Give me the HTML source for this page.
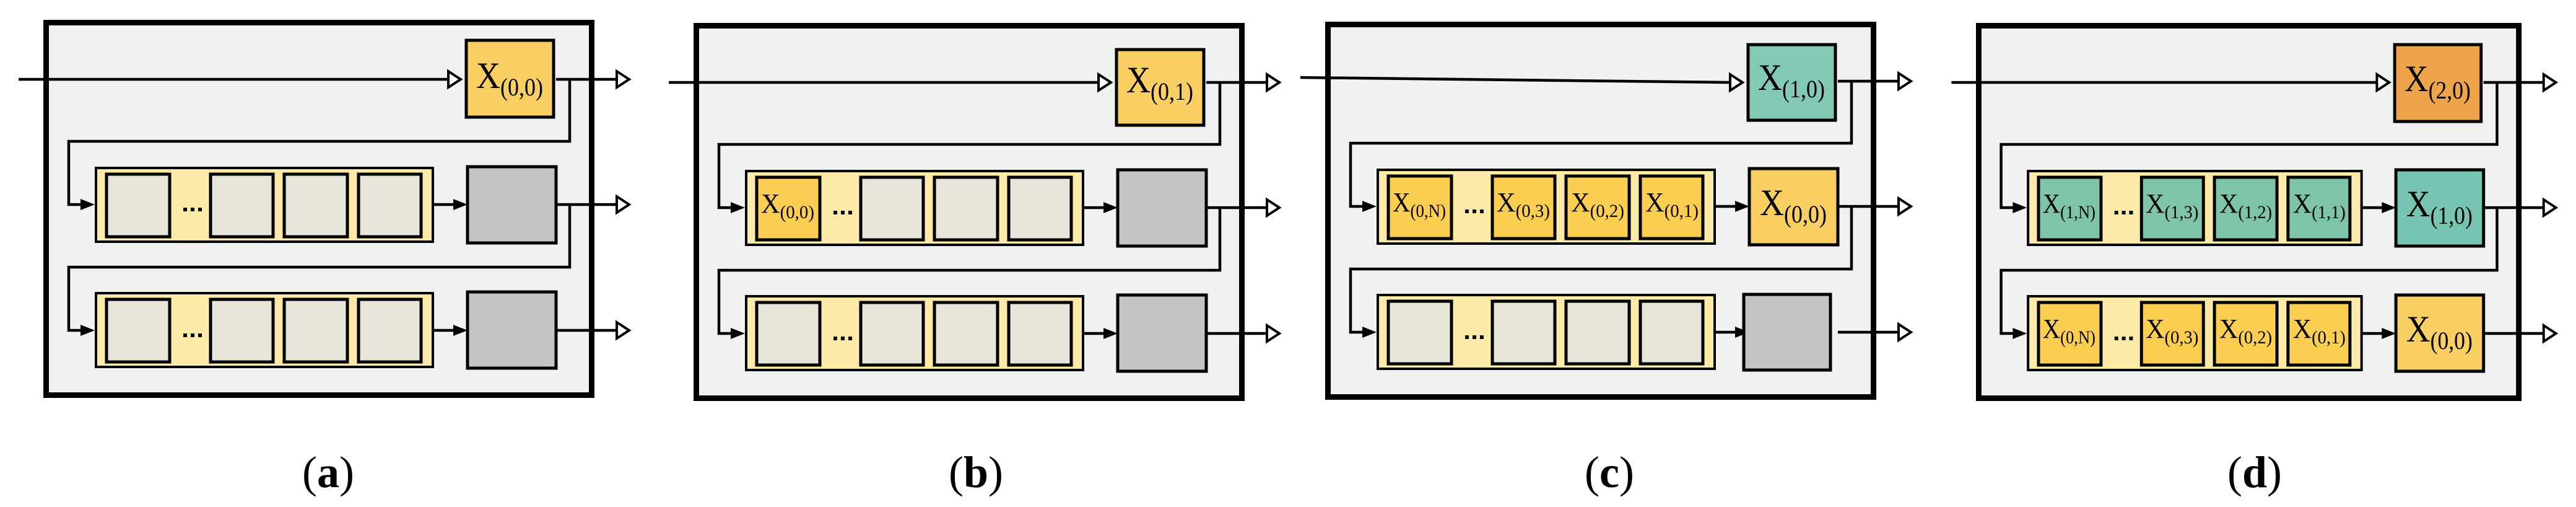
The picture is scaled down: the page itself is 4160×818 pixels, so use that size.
<!DOCTYPE html>
<html><head><meta charset="utf-8"><style>
html,body{margin:0;padding:0;background:#fff;}
svg{display:block;}
text{font-family:"Liberation Serif",serif;fill:#000;}
</style></head><body>
<svg width="4160" height="818" viewBox="0 0 4160 818" xmlns="http://www.w3.org/2000/svg">
<defs>
<g id="frame">
 <rect x="4.5" y="4.5" width="881" height="601" fill="#f1f1f1" stroke="#000" stroke-width="9"/>
 <g stroke="#000" stroke-width="4.5" fill="none">
  <line x1="828" y1="96" x2="926" y2="96"/>
  <line x1="828" y1="298" x2="926" y2="298"/>
  <line x1="828" y1="501" x2="926" y2="501"/>
  <polyline points="850,96 850,196 41,196 41,298 62,298"/>
  <polyline points="850,298 850,399 41,399 41,501 62,501"/>
  <line x1="631" y1="298" x2="666" y2="298"/>
  <line x1="631" y1="501" x2="666" y2="501"/>
 </g>
 <g fill="#fff" stroke="#000" stroke-width="4">
  <polygon points="926,83 946,96 926,109"/>
  <polygon points="926,285 946,298 926,311"/>
  <polygon points="926,488 946,501 926,514"/>
 </g>
 <g fill="#000">
  <polygon points="60,289 83,298 60,307"/>
  <polygon points="60,492 83,501 60,510"/>
  <polygon points="662,289 685,298 662,307"/>
  <polygon points="662,492 685,501 662,510"/>
 </g>
 <rect x="85" y="239" width="544" height="119" fill="#feeaa8" stroke="#000" stroke-width="4"/>
 <rect x="85" y="441" width="544" height="119" fill="#feeaa8" stroke="#000" stroke-width="4"/>
 <g fill="#000">
  <rect x="226" y="303" width="6" height="6"/><rect x="238" y="303" width="6" height="6"/><rect x="250" y="303" width="6" height="6"/>
  <rect x="226" y="506" width="6" height="6"/><rect x="238" y="506" width="6" height="6"/><rect x="250" y="506" width="6" height="6"/>
 </g>
</g>
<g id="inputline">
 <line x1="-40" y1="96" x2="654" y2="96" stroke="#000" stroke-width="4.5"/>
 <polygon points="654,83 674,96 654,109" fill="#fff" stroke="#000" stroke-width="4"/>
</g>
</defs>

<!-- Panel a -->
<g transform="translate(70,32)">
 <use href="#frame"/><use href="#inputline"/>
 <rect x="683" y="33" width="141" height="124" fill="#f9cf63" stroke="#000" stroke-width="5"/>
 <text x="699" y="110" font-size="60" textLength="108" lengthAdjust="spacingAndGlyphs">X<tspan font-size="40" dy="12">(0,0)</tspan></text>
 <g fill="#e7e4da" stroke="#000" stroke-width="5">
  <rect x="102" y="249" width="102" height="101"/><rect x="270" y="249" width="101" height="101"/><rect x="389" y="249" width="102" height="101"/><rect x="509" y="249" width="101" height="101"/>
  <rect x="102" y="451" width="102" height="101"/><rect x="270" y="451" width="101" height="101"/><rect x="389" y="451" width="102" height="101"/><rect x="509" y="451" width="101" height="101"/>
 </g>
 <rect x="685" y="237" width="143" height="123" fill="#c4c4c4" stroke="#000" stroke-width="5"/>
 <rect x="685" y="439" width="143" height="123" fill="#c4c4c4" stroke="#000" stroke-width="5"/>
</g>

<!-- Panel b -->
<g transform="translate(1120,37)">
 <use href="#frame"/><use href="#inputline"/>
 <rect x="683" y="43" width="141" height="122" fill="#f9cf63" stroke="#000" stroke-width="5"/>
 <text x="699" y="112" font-size="60" textLength="108" lengthAdjust="spacingAndGlyphs">X<tspan font-size="40" dy="12">(0,1)</tspan></text>
 <rect x="102" y="249" width="102" height="101" fill="#fbcd55" stroke="#000" stroke-width="5"/>
 <text x="109" y="306" font-size="44" textLength="86" lengthAdjust="spacingAndGlyphs">X<tspan font-size="30" dy="9">(0,0)</tspan></text>
 <g fill="#e7e4da" stroke="#000" stroke-width="5">
  <rect x="270" y="249" width="101" height="101"/><rect x="389" y="249" width="102" height="101"/><rect x="509" y="249" width="101" height="101"/>
  <rect x="102" y="451" width="102" height="101"/><rect x="270" y="451" width="101" height="101"/><rect x="389" y="451" width="102" height="101"/><rect x="509" y="451" width="101" height="101"/>
 </g>
 <rect x="685" y="237" width="143" height="123" fill="#c4c4c4" stroke="#000" stroke-width="5"/>
 <rect x="685" y="439" width="143" height="123" fill="#c4c4c4" stroke="#000" stroke-width="5"/>
</g>

<!-- Panel c -->
<g transform="translate(2140,35)">
 <use href="#frame"/>
 <line x1="-40" y1="90" x2="654" y2="98" stroke="#000" stroke-width="4.5"/>
 <polygon points="654,85 674,98 654,111" fill="#fff" stroke="#000" stroke-width="4"/>
 <rect x="683" y="37" width="141" height="122" fill="#82c9b8" stroke="#000" stroke-width="5"/>
 <text x="699" y="110" font-size="60" textLength="108" lengthAdjust="spacingAndGlyphs">X<tspan font-size="40" dy="12">(1,0)</tspan></text>
 <g fill="#fbcd50" stroke="#000" stroke-width="5">
  <rect x="102" y="249" width="102" height="101"/><rect x="270" y="249" width="101" height="101"/><rect x="389" y="249" width="102" height="101"/><rect x="509" y="249" width="101" height="101"/>
 </g>
 <g font-size="44">
  <text x="109" y="306" textLength="86" lengthAdjust="spacingAndGlyphs">X<tspan font-size="30" dy="9">(0,N)</tspan></text>
  <text x="277" y="306" textLength="86" lengthAdjust="spacingAndGlyphs">X<tspan font-size="30" dy="9">(0,3)</tspan></text>
  <text x="397" y="306" textLength="86" lengthAdjust="spacingAndGlyphs">X<tspan font-size="30" dy="9">(0,2)</tspan></text>
  <text x="517" y="306" textLength="86" lengthAdjust="spacingAndGlyphs">X<tspan font-size="30" dy="9">(0,1)</tspan></text>
 </g>
 <rect x="685" y="237" width="143" height="123" fill="#f9cf63" stroke="#000" stroke-width="5"/>
 <text x="702" y="312" font-size="60" textLength="108" lengthAdjust="spacingAndGlyphs">X<tspan font-size="40" dy="12">(0,0)</tspan></text>
 <g fill="#e7e4da" stroke="#000" stroke-width="5">
  <rect x="102" y="451" width="102" height="101"/><rect x="270" y="451" width="101" height="101"/><rect x="389" y="451" width="102" height="101"/><rect x="509" y="451" width="101" height="101"/>
 </g>
 <rect x="676" y="440" width="140" height="122" fill="#c4c4c4" stroke="#000" stroke-width="5"/>
</g>

<!-- Panel d -->
<g transform="translate(3191,37) scale(0.99,1)">
 <use href="#frame"/><use href="#inputline"/>
 <rect x="683" y="35" width="141" height="124" fill="#eea44b" stroke="#000" stroke-width="5"/>
 <text x="699" y="110" font-size="60" textLength="108" lengthAdjust="spacingAndGlyphs">X<tspan font-size="40" dy="12">(2,0)</tspan></text>
 <g fill="#7dc5a6" stroke="#000" stroke-width="5">
  <rect x="102" y="249" width="102" height="101"/><rect x="270" y="249" width="101" height="101"/><rect x="389" y="249" width="102" height="101"/><rect x="509" y="249" width="101" height="101"/>
 </g>
 <g fill="#fbcd50" stroke="#000" stroke-width="5">
  <rect x="102" y="451" width="102" height="101"/><rect x="270" y="451" width="101" height="101"/><rect x="389" y="451" width="102" height="101"/><rect x="509" y="451" width="101" height="101"/>
 </g>
 <g font-size="44">
  <text x="109" y="306" textLength="86" lengthAdjust="spacingAndGlyphs">X<tspan font-size="30" dy="9">(1,N)</tspan></text>
  <text x="277" y="306" textLength="86" lengthAdjust="spacingAndGlyphs">X<tspan font-size="30" dy="9">(1,3)</tspan></text>
  <text x="397" y="306" textLength="86" lengthAdjust="spacingAndGlyphs">X<tspan font-size="30" dy="9">(1,2)</tspan></text>
  <text x="517" y="306" textLength="86" lengthAdjust="spacingAndGlyphs">X<tspan font-size="30" dy="9">(1,1)</tspan></text>
  <text x="109" y="508" textLength="86" lengthAdjust="spacingAndGlyphs">X<tspan font-size="30" dy="9">(0,N)</tspan></text>
  <text x="277" y="508" textLength="86" lengthAdjust="spacingAndGlyphs">X<tspan font-size="30" dy="9">(0,3)</tspan></text>
  <text x="397" y="508" textLength="86" lengthAdjust="spacingAndGlyphs">X<tspan font-size="30" dy="9">(0,2)</tspan></text>
  <text x="517" y="508" textLength="86" lengthAdjust="spacingAndGlyphs">X<tspan font-size="30" dy="9">(0,1)</tspan></text>
 </g>
 <rect x="685" y="237" width="143" height="123" fill="#78c4b2" stroke="#000" stroke-width="5"/>
 <text x="702" y="312" font-size="60" textLength="108" lengthAdjust="spacingAndGlyphs">X<tspan font-size="40" dy="12">(1,0)</tspan></text>
 <rect x="685" y="439" width="143" height="123" fill="#f9cf63" stroke="#000" stroke-width="5"/>
 <text x="702" y="514" font-size="60" textLength="108" lengthAdjust="spacingAndGlyphs">X<tspan font-size="40" dy="12">(0,0)</tspan></text>
</g>

<!-- Labels -->
<g font-size="72" text-anchor="middle">
 <text x="530" y="786">(<tspan font-weight="bold">a</tspan>)</text>
 <text x="1576" y="786">(<tspan font-weight="bold">b</tspan>)</text>
 <text x="2599" y="786">(<tspan font-weight="bold">c</tspan>)</text>
 <text x="3641" y="786">(<tspan font-weight="bold">d</tspan>)</text>
</g>
</svg>
</body></html>
